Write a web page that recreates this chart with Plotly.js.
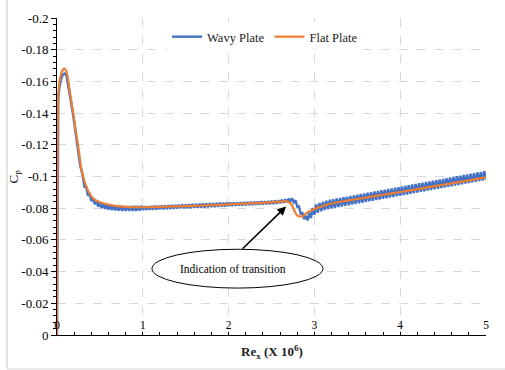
<!DOCTYPE html>
<html>
<head>
<meta charset="utf-8">
<script src="https://cdn.plot.ly/plotly-3.0.1.min.js"></script>
<style>html,body{margin:0;padding:0;background:#fff;}#chart{width:505px;height:370px;}</style>
</head>
<body>
<div id="chart"></div>
<script>
// ---- Data ----
const wavyX = [0,0.004,0.008,0.015,0.03,0.05,0.07,0.09,0.11,0.13,0.16,0.19,0.215,0.245,0.27,
0.30,0.32,0.34,0.36,0.38,0.40,0.42,0.44,0.46,0.48,0.50,0.52,0.54,0.56,0.58,0.60,0.62,0.64,0.66,0.68,
0.70,0.72,0.74,0.76,0.78,0.80,0.82,0.84,0.86,0.88,0.90,0.92,0.94,0.96,0.98,1.00,1.02,1.04,1.06,1.08,
1.10,1.12,1.14,1.16,1.18,1.20,1.22,1.24,1.26,1.28,1.30,1.32,1.34,1.36,1.38,1.40,1.42,1.44,1.46,1.48,
1.50,1.52,1.54,1.56,1.58,1.60,1.62,1.64,1.66,1.68,1.70,1.72,1.74,1.76,1.78,1.80,1.82,1.84,1.86,1.88,
1.90,1.92,1.94,1.96,1.98,2.00,2.02,2.04,2.06,2.08,2.10,2.12,2.14,2.16,2.18,2.20,2.22,2.24,2.26,2.28,
2.30,2.32,2.34,2.36,2.38,2.40,2.42,2.44,2.46,2.48,2.50,2.52,2.54,2.56,2.58,2.60,2.62,2.64,2.66,2.68,
2.70,2.72,2.74,2.76,2.78,2.80,2.82,2.84,2.86,2.88,2.90,2.92,2.94,2.96,2.98,3.00,3.02,3.04,3.06,3.08,
3.10,3.12,3.14,3.16,3.18,3.20,3.22,3.24,3.26,3.28,3.30,3.32,3.34,3.36,3.38,3.40,3.42,3.44,3.46,3.48,
3.50,3.52,3.54,3.56,3.58,3.60,3.62,3.64,3.66,3.68,3.70,3.72,3.74,3.76,3.78,3.80,3.82,3.84,3.86,3.88,
3.90,3.92,3.94,3.96,3.98,4.00,4.02,4.04,4.06,4.08,4.10,4.12,4.14,4.16,4.18,4.20,4.22,4.24,4.26,4.28,
4.30,4.32,4.34,4.36,4.38,4.40,4.42,4.44,4.46,4.48,4.50,4.52,4.54,4.56,4.58,4.60,4.62,4.64,4.66,4.68,
4.70,4.72,4.74,4.76,4.78,4.80,4.82,4.84,4.86,4.88,4.90,4.92,4.94,4.96,4.98,5.00];
const wavyCp = [0,-0.07,-0.125,-0.149,-0.157,-0.162,-0.1645,-0.165,-0.1635,-0.158,-0.148,-0.138,-0.128,-0.117,-0.107,
-0.1005,-0.0935,-0.0935,-0.0880,-0.0890,-0.0845,-0.0865,-0.0825,-0.0845,-0.0810,-0.0835,-0.0801,-0.0828,-0.0795,-0.0823,-0.0791,-0.0819,-0.0788,-0.0817,-0.0786,
-0.0815,-0.0785,-0.0814,-0.0784,-0.0813,-0.0783,-0.0813,-0.0783,-0.0813,-0.0784,-0.0814,-0.0784,-0.0814,-0.0785,-0.0815,-0.0788,-0.0812,-0.0789,-0.0813,-0.0790,
-0.0814,-0.0791,-0.0815,-0.0792,-0.0816,-0.0793,-0.0817,-0.0794,-0.0818,-0.0795,-0.0819,-0.0796,-0.0820,-0.0797,-0.0821,-0.0798,-0.0822,-0.0799,-0.0823,-0.0800,
-0.0824,-0.0801,-0.0825,-0.0801,-0.0826,-0.0802,-0.0827,-0.0803,-0.0828,-0.0804,-0.0829,-0.0805,-0.0830,-0.0806,-0.0831,-0.0807,-0.0832,-0.0808,-0.0833,-0.0809,
-0.0834,-0.0810,-0.0835,-0.0811,-0.0836,-0.0814,-0.0835,-0.0815,-0.0835,-0.0816,-0.0836,-0.0817,-0.0837,-0.0818,-0.0838,-0.0819,-0.0839,-0.0820,-0.0840,-0.0821,
-0.0841,-0.0822,-0.0842,-0.0823,-0.0843,-0.0824,-0.0844,-0.0825,-0.0845,-0.0826,-0.0846,-0.0827,-0.0848,-0.0829,-0.0850,-0.0832,-0.0853,-0.0835,-0.0856,-0.0838,
-0.0860,-0.0842,-0.0863,-0.0837,-0.0850,-0.0810,-0.0812,-0.0766,-0.0770,-0.0730,-0.0752,-0.0723,-0.0772,-0.0738,-0.0801,-0.0759,-0.0823,-0.0772,-0.0833,-0.0781,
-0.0841,-0.0788,-0.0847,-0.0794,-0.0853,-0.0799,-0.0857,-0.0803,-0.0861,-0.0807,-0.0865,-0.0811,-0.0869,-0.0815,-0.0873,-0.0819,-0.0877,-0.0823,-0.0881,-0.0827,
-0.0885,-0.0831,-0.0889,-0.0835,-0.0893,-0.0839,-0.0897,-0.0843,-0.0901,-0.0847,-0.0905,-0.0851,-0.0909,-0.0855,-0.0913,-0.0859,-0.0917,-0.0863,-0.0921,-0.0867,
-0.0925,-0.0871,-0.0929,-0.0875,-0.0933,-0.0879,-0.0937,-0.0883,-0.0941,-0.0887,-0.0945,-0.0891,-0.0949,-0.0895,-0.0953,-0.0899,-0.0957,-0.0903,-0.0961,-0.0907,
-0.0965,-0.0911,-0.0969,-0.0915,-0.0973,-0.0919,-0.0977,-0.0923,-0.0981,-0.0927,-0.0985,-0.0931,-0.0989,-0.0935,-0.0993,-0.0939,-0.0997,-0.0943,-0.1001,-0.0947,
-0.1005,-0.0951,-0.1009,-0.0955,-0.1013,-0.0959,-0.1017,-0.0963,-0.1021,-0.0967,-0.1025,-0.0971,-0.1029,-0.0975,-0.1033,-0.0979];

const flatX = [0,0.004,0.008,0.015,0.03,0.05,0.07,0.09,0.11,0.13,0.16,0.19,0.215,0.245,0.27,0.28,0.30,0.32,0.35,0.40,0.45,0.50,0.58,0.70,0.85,1.0,
1.2,1.4,1.6,1.8,2.0,2.2,2.4,2.6,2.66,2.72,2.76,2.80,2.86,2.92,2.98,3.05,3.1,3.2,3.4,3.6,3.8,4.0,4.2,4.4,4.6,4.8,5.0];
const flatCp = [0,-0.08,-0.13,-0.152,-0.160,-0.165,-0.1675,-0.168,-0.1665,-0.161,-0.150,-0.140,-0.130,-0.120,-0.110,-0.106,-0.101,-0.097,-0.0925,-0.0875,-0.0850,-0.0838,-0.0825,-0.0813,-0.0807,-0.0806,
-0.0808,-0.0811,-0.0815,-0.0819,-0.0824,-0.0829,-0.0834,-0.0841,-0.0845,-0.0832,-0.0792,-0.0753,-0.0748,-0.0774,-0.0790,-0.0804,-0.0814,-0.0830,-0.0849,-0.0867,-0.0885,-0.0902,-0.0920,-0.0939,-0.0957,-0.0976,-0.0995];

const seriesNames = ["Wavy Plate", "Flat Plate"];
const yTickVals = [-0.2,-0.18,-0.16,-0.14,-0.12,-0.1,-0.08,-0.06,-0.04,-0.02,0];
const yTickText = ["-0.2","-0.18","-0.16","-0.14","-0.12","-0.1","-0.08","-0.06","-0.04","-0.02","0"];
const xTickVals = [0,1,2,3,4,5];
const xTickText = ["0","1","2","3","4","5"];

const FONT = "Liberation Serif";

const traces = [
  {x: wavyX, y: wavyCp, name: seriesNames[0], type: "scatter", mode: "lines",
   line: {color: "#4472C4", width: 2.4}},
  {x: flatX, y: flatCp, name: seriesNames[1], type: "scatter", mode: "lines",
   line: {color: "#ED7D31", width: 2.2, shape: "spline", smoothing: 0.6}}
];

const layout = {
  width: 505, height: 370,
  margin: {l: 57, r: 19, t: 18, b: 35},
  paper_bgcolor: "#fff", plot_bgcolor: "#fff",
  font: {family: FONT, color: "#000", size: 12},
  showlegend: true,
  legend: {orientation: "h", x: 0.485, xanchor: "center", y: 0.94, yanchor: "middle",
           bgcolor: "#fff", font: {family: FONT, size: 12.5, color: "#222"}},
  xaxis: {
    range: [0, 5], tickmode: "array", tickvals: xTickVals, ticktext: xTickText,
    ticklabelposition: "inside", ticklabeloverflow: "allow",
    ticks: "inside", ticklen: 3, tickcolor: "#000",
    tickfont: {family: FONT, size: 11.5, color: "#000"},
    showline: true, linecolor: "#000", linewidth: 1, zeroline: false,
    showgrid: true, gridcolor: "#d9d9d9", griddash: "dash", gridwidth: 1,
    minor: {tickmode: "linear", tick0: 0, dtick: 0.2, ticks: "inside", ticklen: 3, tickcolor: "#000", showgrid: false}
  },
  yaxis: {
    range: [0, -0.2], tickmode: "array", tickvals: yTickVals, ticktext: yTickText,
    ticklabeloverflow: "allow",
    ticks: "outside", ticklen: 5, tickcolor: "#000",
    tickfont: {family: FONT, size: 13, color: "#000"},
    showline: true, linecolor: "#000", linewidth: 1, zeroline: false,
    showgrid: true, gridcolor: "#d9d9d9", griddash: "dash", gridwidth: 1,
    minor: {tickmode: "linear", tick0: 0, dtick: 0.004, ticks: "outside", ticklen: 3, tickcolor: "#000", showgrid: false}
  },
  shapes: [
    {type: "line", xref: "paper", yref: "paper", x0: -0.1166, x1: -0.1166, y0: -0.107, y1: 1.06,
     line: {color: "#d9d9d9", width: 1.5}},
    {type: "line", xref: "paper", yref: "paper", x0: -0.1166, x1: 1.05, y0: -0.107, y1: -0.107,
     line: {color: "#e3e3e3", width: 1.5}},
    {type: "circle", xref: "x", yref: "y", x0: 1.107, x1: 3.10, y0: -0.0541, y1: -0.0296,
     fillcolor: "#fff", line: {color: "#000", width: 1}, layer: "above"}
  ],
  annotations: [
    {xref: "x", yref: "y", x: 2.67, y: -0.0811, axref: "x", ayref: "y", ax: 2.145, ay: -0.0535,
     showarrow: true, arrowhead: 2, arrowsize: 1.1, arrowwidth: 1.6, arrowcolor: "#000", text: ""},
    {xref: "x", yref: "y", x: 2.05, y: -0.0419, text: "Indication of transition", showarrow: false,
     font: {family: FONT, size: 11.5, color: "#000"}},
    {xref: "paper", yref: "paper", x: 0.5, y: -0.054, yanchor: "middle", xanchor: "center",
     text: "<b>Re<sub>x</sub> (X 10<sup>6</sup>)</b>", showarrow: false,
     font: {family: FONT, size: 13, color: "#222"}},
    {xref: "paper", yref: "paper", x: 0, xshift: -43, y: 0.5, xanchor: "center", yanchor: "middle",
     text: "C<sub>p</sub>", textangle: -90, showarrow: false,
     font: {family: FONT, size: 13, color: "#000"}}
  ]
};

Plotly.newPlot("chart", traces, layout, {displayModeBar: false, staticPlot: true});
</script>
</body>
</html>
